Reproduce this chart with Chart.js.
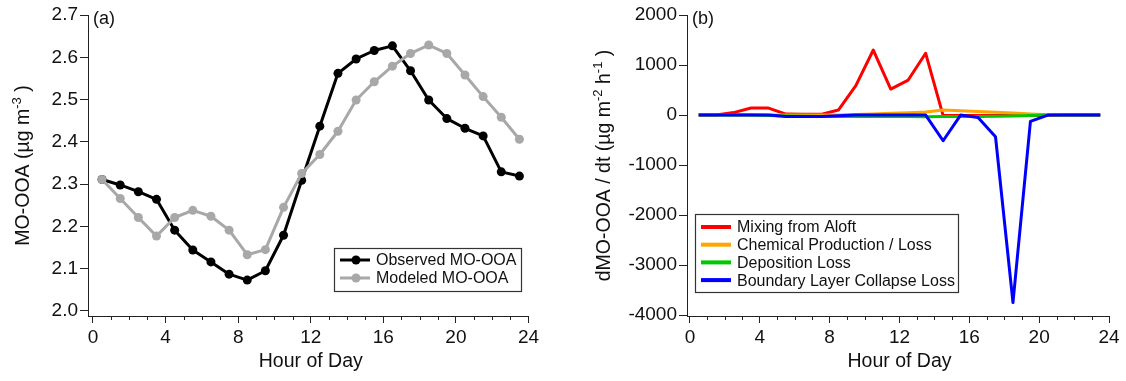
<!DOCTYPE html>
<html>
<head>
<meta charset="utf-8">
<script src="https://cdn.jsdelivr.net/npm/chart.js@4.4.1/dist/chart.umd.min.js"></script>
<style>
  html, body { margin: 0; padding: 0; background: #fff; }
  #wrap { position: relative; width: 1126px; height: 381px; }
  canvas { position: absolute; top: 0; }
  #left { left: 0; }
  #right { left: 563px; }
</style>
</head>
<body>
<div id="wrap">
  <canvas id="left" width="563" height="381"></canvas>
  <canvas id="right" width="563" height="381"></canvas>
</div>
<script>
// diurnal profile, one value per hour bin
const hours = [0.5, 1.5, 2.5, 3.5, 4.5, 5.5, 6.5, 7.5, 8.5, 9.5, 10.5, 11.5,
               12.5, 13.5, 14.5, 15.5, 16.5, 17.5, 18.5, 19.5, 20.5, 21.5, 22.5, 23.5];
const hourTicks = [0, 4, 8, 12, 16, 20, 24];

// (a) MO-OOA concentration, ug m-3
const observed = [2.311, 2.298, 2.282, 2.264, 2.191, 2.144, 2.116, 2.087, 2.073, 2.095, 2.179, 2.309,
                  2.437, 2.562, 2.596, 2.616, 2.627, 2.568, 2.499, 2.455, 2.432, 2.414, 2.329, 2.319];
const modeled = [2.311, 2.266, 2.221, 2.177, 2.221, 2.238, 2.224, 2.191, 2.133, 2.145, 2.245, 2.325,
                 2.370, 2.425, 2.499, 2.542, 2.579, 2.609, 2.629, 2.609, 2.558, 2.507, 2.458, 2.406];
const ooaTicks = [2.0, 2.1, 2.2, 2.3, 2.4, 2.5, 2.6, 2.7];

// (b) budget terms, ug m-2 h-1
const mixing = [0, 0, 50, 140, 140, 20, 15, 15, 100, 590, 1300, 520,
                700, 1235, -10, -10, -10, -10, -10, -10, -10, 0, 0, 0];
const chemical = [0, 0, 0, 0, 0, 0, 0, 0, 0, 10, 20, 35,
                  45, 60, 100, 85, 70, 55, 40, 20, 5, 0, 0, 0];
const deposition = [0, 0, 0, 0, -10, -20, -25, -30, -30, -30, -30, -30,
                    -30, -35, -30, -30, -30, -25, -20, -10, 0, 0, 0, 0];
const collapse = [0, 0, 0, 0, 0, -30, -30, -30, -12, 0, 0, 0,
                  0, 0, -513, 0, -47, -433, -3747, -127, 0, 0, 0, 0];
const rateTicks = [-4000, -3000, -2000, -1000, 0, 1000, 2000];

Chart.defaults.font.family = "'Liberation Sans', Arial, sans-serif";
Chart.defaults.color = '#111';

const INK = '#222';

function pts(ys) {
  return hours.map((h, i) => ({ x: h, y: ys[i] }));
}

// axis titles with superscripts, panel letter, minor hour ticks, boxed legend
const decor = {
  id: 'decor',
  afterDraw(chart, args, opts) {
    const ctx = chart.ctx;
    const area = chart.chartArea;
    const xs = chart.scales.x;
    ctx.save();

    // minor ticks every hour
    ctx.strokeStyle = INK;
    ctx.lineWidth = 1;
    for (let h = 1; h < 24; h++) {
      if (h % 4 === 0) continue;
      const px = Math.round(xs.getPixelForValue(h)) + 0.5;
      ctx.beginPath();
      ctx.moveTo(px, area.bottom);
      ctx.lineTo(px, area.bottom + 4);
      ctx.stroke();
    }

    ctx.fillStyle = '#111';
    ctx.textBaseline = 'middle';

    // x title
    ctx.font = "19.5px 'Liberation Sans', Arial, sans-serif";
    ctx.textAlign = 'center';
    ctx.fillText('Hour of Day', (xs.getPixelForValue(0) + xs.getPixelForValue(24)) / 2, 362);

    // panel letter
    ctx.font = "18px 'Liberation Sans', Arial, sans-serif";
    ctx.textAlign = 'left';
    ctx.fillText(opts.letter, area.left + 5, 19);

    // rotated y title
    const big = "19.5px 'Liberation Sans', Arial, sans-serif";
    const small = "13px 'Liberation Sans', Arial, sans-serif";
    let total = 0;
    opts.yTitle.forEach(p => {
      ctx.font = p.sup ? small : big;
      total += ctx.measureText(p.t).width;
    });
    ctx.save();
    ctx.translate(opts.yTitleX, (area.top + area.bottom) / 2);
    ctx.rotate(-Math.PI / 2);
    ctx.textAlign = 'left';
    ctx.textBaseline = 'alphabetic';
    let cx = -total / 2;
    opts.yTitle.forEach(p => {
      ctx.font = p.sup ? small : big;
      ctx.fillText(p.t, cx, p.sup ? -1 : 7);
      cx += ctx.measureText(p.t).width;
    });
    ctx.restore();

    // legend
    const lg = opts.legend;
    ctx.fillStyle = '#fff';
    ctx.fillRect(lg.x, lg.y, lg.w, lg.h);
    ctx.strokeStyle = '#333';
    ctx.lineWidth = 1.2;
    ctx.strokeRect(lg.x + 0.5, lg.y + 0.5, lg.w, lg.h);
    ctx.font = "16px 'Liberation Sans', Arial, sans-serif";
    ctx.textBaseline = 'middle';
    ctx.textAlign = 'left';
    chart.data.datasets.forEach((ds, i) => {
      const ry = lg.y + lg.first + i * lg.step;
      ctx.strokeStyle = ds.borderColor;
      ctx.lineWidth = lg.lineWidth;
      ctx.beginPath();
      ctx.moveTo(lg.x + 6, ry);
      ctx.lineTo(lg.x + 36, ry);
      ctx.stroke();
      if (lg.marker) {
        ctx.fillStyle = ds.borderColor;
        ctx.beginPath();
        ctx.arc(lg.x + 22, ry, 4.5, 0, Math.PI * 2);
        ctx.fill();
      }
      ctx.fillStyle = '#111';
      ctx.fillText(ds.label, lg.x + 42, ry + 1);
    });

    ctx.restore();
  }
};

function axes(xMin, yMin, yMax, yTicks, yFmt, yWidth) {
  const border = { color: INK, width: 1 };
  return {
    x: {
      type: 'linear', min: xMin, max: 24,
      afterBuildTicks: s => { s.ticks = hourTicks.map(v => ({ value: v })); },
      afterFit: s => { s.height = 65; },
      grid: { drawOnChartArea: false, tickLength: 7, tickColor: INK, tickWidth: 1 },
      border,
      ticks: { font: { size: 19 }, color: '#111', padding: 3, maxRotation: 0, autoSkip: false, callback: v => String(v) }
    },
    y: {
      min: yMin, max: yMax,
      afterBuildTicks: s => { s.ticks = yTicks.map(v => ({ value: v })); },
      afterFit: s => { s.width = yWidth; },
      grid: { drawOnChartArea: false, tickLength: 8, tickColor: INK, tickWidth: 1 },
      border,
      ticks: { font: { size: 19 }, color: '#111', padding: 2, autoSkip: false, callback: yFmt }
    }
  };
}

new Chart(document.getElementById('left'), {
  type: 'line',
  data: {
    datasets: [
      { label: 'Observed MO-OOA', data: pts(observed), borderColor: '#000', backgroundColor: '#000',
        borderWidth: 3, pointRadius: 4.5, pointBorderWidth: 0, borderJoinStyle: 'round', order: 1 },
      { label: 'Modeled MO-OOA', data: pts(modeled), borderColor: '#a8a8a8', backgroundColor: '#a8a8a8',
        borderWidth: 3, pointRadius: 4.5, pointBorderWidth: 0, borderJoinStyle: 'round', order: 0 }
    ]
  },
  options: {
    responsive: false, animation: false, devicePixelRatio: 1,
    layout: { padding: { top: 15, right: 34.5, bottom: 0, left: 0 } },
    plugins: {
      legend: { display: false }, tooltip: { enabled: false },
      decor: {
        letter: '(a)', yTitleX: 22,
        yTitle: [{ t: 'MO-OOA (µg m' }, { t: '-3', sup: true }, { t: ' )' }],
        legend: { x: 334, y: 248, w: 187, h: 43, first: 12, step: 18, lineWidth: 3, marker: true }
      }
    },
    scales: axes(-0.275, 1.988, 2.7, ooaTicks, v => v.toFixed(1), 88)
  },
  plugins: [decor]
});

new Chart(document.getElementById('right'), {
  type: 'line',
  data: {
    datasets: [
      { label: 'Mixing from Aloft', data: pts(mixing), borderColor: '#ff0000', order: 3 },
      { label: 'Chemical Production / Loss', data: pts(chemical), borderColor: '#ffa500', order: 2 },
      { label: 'Deposition Loss', data: pts(deposition), borderColor: '#00c800', order: 1 },
      { label: 'Boundary Layer Collapse Loss', data: pts(collapse), borderColor: '#0000ff', order: 0 }
    ].map(d => Object.assign(d, { borderWidth: 3, pointRadius: 0, borderJoinStyle: 'round' }))
  },
  options: {
    responsive: false, animation: false, devicePixelRatio: 1,
    layout: { padding: { top: 15, right: 17, bottom: 0, left: 0 } },
    plugins: {
      legend: { display: false }, tooltip: { enabled: false },
      decor: {
        letter: '(b)', yTitleX: 40,
        yTitle: [{ t: 'dMO-OOA / dt (µg m' }, { t: '-2', sup: true }, { t: ' h' }, { t: '-1', sup: true }, { t: ' )' }],
        legend: { x: 132, y: 214, w: 263, h: 78, first: 13, step: 17.7, lineWidth: 4, marker: false }
      }
    },
    scales: axes(-0.17, -4015, 2000, rateTicks, v => String(v), 124)
  },
  plugins: [decor]
});
</script>
</body>
</html>
